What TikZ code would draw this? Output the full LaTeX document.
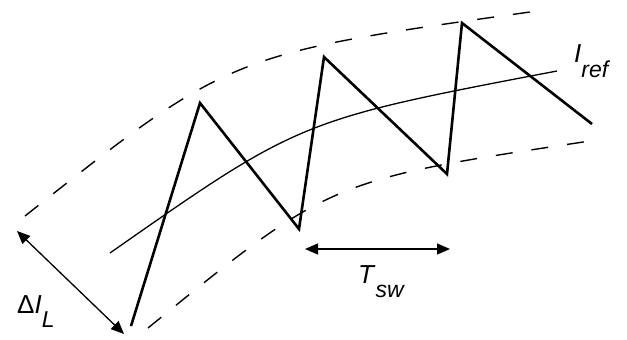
\documentclass[tikz,border=0pt]{standalone}
\usepackage{fontspec}
\setmainfont{Liberation Sans}
\usetikzlibrary{arrows.meta}
\begin{document}
\begin{tikzpicture}[x=1pt,y=-1pt,
  wave/.style={line width=2.6pt, line join=miter},
  band/.style={line width=1.4pt, dash pattern=on 17pt off 19pt},
  refline/.style={line width=1.3pt},
  dim/.style={line width=1.3pt, {Triangle[length=13pt,width=11pt]}-{Triangle[length=13pt,width=11pt]}},
  lbl/.style={inner sep=0pt, anchor=base west, font=\fontsize{26}{30}\selectfont},
  sub/.style={}]
\useasboundingbox (0,0) rectangle (627,340);
% band limits and reference
\draw[band] (25,216) .. controls (230,54) .. (530,12);
\draw[refline] (110,253) .. controls (300,120) .. (557,71);
\draw[band] (148,328) .. controls (330,180) .. (590,141);
% inductor current
\coordinate (w0) at (131,326);
\coordinate (w1) at (200,103);
\coordinate (w2) at (299,229);
\coordinate (w3) at (324,57);
\coordinate (w4) at (447,174);
\coordinate (w5) at (462,23);
\coordinate (w6) at (592,124);
\draw[wave] (w0) -- (w1) -- (w2) -- (w3) -- (w4) -- (w5) -- (w6);
% dimension arrows
\coordinate (d1) at (17,231);
\coordinate (d2) at (124,334);
\draw[dim] (d1) -- (d2);
\coordinate (t1) at (305,249);
\coordinate (t2) at (450,249);
\draw[dim] (t1) -- (t2);
% labels
\node[lbl] (dil) at (17,313) {Δ\textit{I}\raisebox{-14pt}{\fontsize{23}{26}\selectfont\textit{L}}};
\node[lbl] (tsw) at (358,283) {\textit{T}\raisebox{-14pt}{\fontsize{23}{26}\selectfont\textit{sw}}};
\node[lbl] (iref) at (574,62) {\textit{I}\raisebox{-15pt}{\fontsize{23}{26}\selectfont\textit{ref}}};
\end{tikzpicture}
\end{document}
